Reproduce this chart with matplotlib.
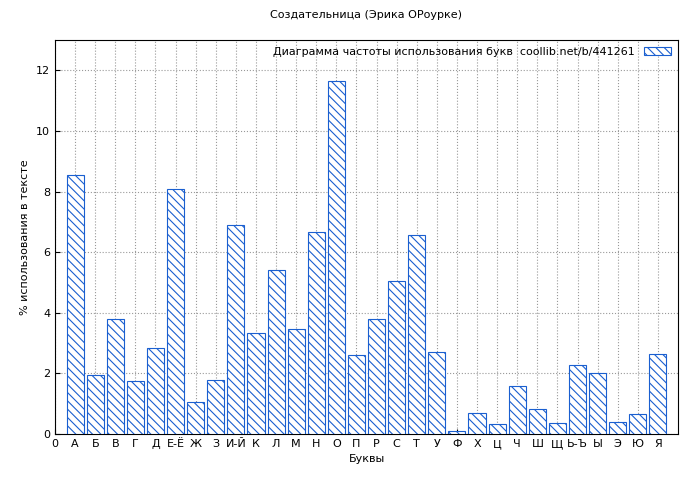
import matplotlib
matplotlib.use("Agg")
import matplotlib.pyplot as plt

labels = ["0","А","Б","В","Г","Д","Е-Ё","Ж","З","И-Й","К","Л","М","Н","О","П","Р","С","Т","У","Ф","Х","Ц","Ч","Ш","Щ","Ь-Ъ","Ы","Э","Ю","Я"]
values = [8.55,1.95,3.8,1.75,2.85,8.1,1.07,1.78,6.9,3.32,5.4,3.45,6.65,11.65,2.62,3.78,5.05,6.55,2.72,0.1,0.68,0.33,1.57,0.82,0.35,2.27,2.0,0.4,0.65,2.65]

plt.rcParams['font.family'] = ['DejaVu Sans']
plt.rcParams['hatch.color'] = '#1a5fd0'
plt.rcParams['hatch.linewidth'] = 0.8
fig = plt.figure(figsize=(7, 4.8), dpi=100)
ax = fig.add_axes([55/700, 46/480, 623/700, 394/480])
xs = list(range(1, len(values) + 1))
ax.bar(xs, values, width=0.85, facecolor='white', edgecolor='#1a5fd0', hatch='\\\\\\\\', linewidth=0.8, label='Диаграмма частоты использования букв  coollib.net/b/441261', zorder=3)
ax.set_xlim(0, 31)
ax.set_ylim(0, 13)
ax.set_xticks(range(0, 31))
ax.set_xticklabels(labels, fontsize=8)
ax.set_yticks(range(0, 13, 2))
ax.tick_params(labelsize=8, direction='in')
ax.grid(True, linestyle=':', color='#999999', linewidth=0.8, zorder=0)
ax.set_xlabel('Буквы', fontsize=8)
ax.set_ylabel('% использования в тексте', fontsize=8)
ax.set_title('Создательница (Эрика ОРоурке)', fontsize=8, pad=16)
leg = ax.legend(loc='upper right', fontsize=8, frameon=False, markerfirst=False, handlelength=2.5, borderaxespad=0.2)
fig.savefig('out.png', dpi=100, facecolor='white')
